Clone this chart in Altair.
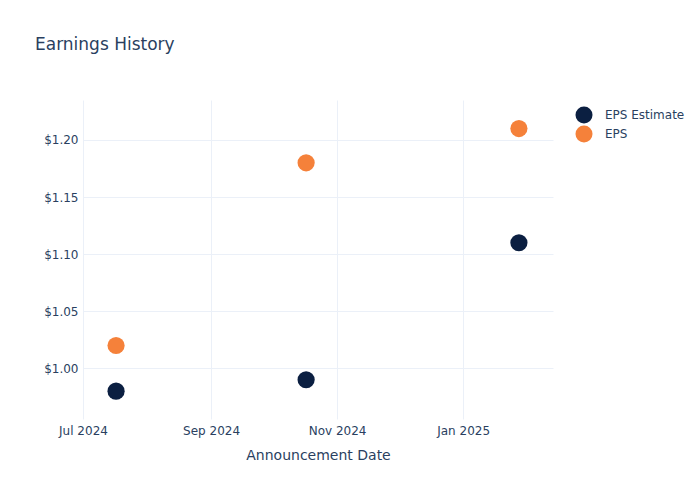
import altair as alt
import pandas as pd

dates = ["2024-07-17", "2024-10-17", "2025-01-28"]
eps_estimate = [0.98, 0.99, 1.11]
eps_actual = [1.02, 1.18, 1.21]
series_names = ["EPS Estimate", "EPS"]
series_colors = ["#0b1f41", "#f5813a"]

rows = []
for d, e in zip(dates, eps_estimate):
    rows.append({"date": d, "value": e, "series": series_names[0]})
for d, a in zip(dates, eps_actual):
    rows.append({"date": d, "value": a, "series": series_names[1]})
df = pd.DataFrame(rows)

FONT = "DejaVu Sans"
TXT = "#2a3f5f"
GRID = "#ebf0f8"

x_ticks = [
    alt.DateTime(year=2024, month=7, date=1, utc=True),
    alt.DateTime(year=2024, month=9, date=1, utc=True),
    alt.DateTime(year=2024, month=11, date=1, utc=True),
    alt.DateTime(year=2025, month=1, date=1, utc=True),
]
x_domain = [
    alt.DateTime(year=2024, month=7, date=1, utc=True),
    alt.DateTime(year=2025, month=2, date=13, hours=12, utc=True),
]

chart = (
    alt.Chart(df)
    .mark_circle(size=295, opacity=1)
    .encode(
        x=alt.X(
            "date:T",
            scale=alt.Scale(type="utc", domain=x_domain),
            axis=alt.Axis(
                values=x_ticks,
                labelExpr="utcFormat(datum.value, '%b %Y')",
                title="Announcement Date",
                titleFontSize=14,
                titleFontWeight="normal",
                titleColor=TXT,
                titleFont=FONT,
                titlePadding=12,
                labelFont=FONT,
                labelFontSize=12,
                labelColor=TXT,
                labelPadding=6,
                domain=False,
                ticks=False,
                gridColor=GRID,
                labelFlush=False,
            ),
        ),
        y=alt.Y(
            "value:Q",
            scale=alt.Scale(domain=[0.9556, 1.235], nice=False, zero=False),
            axis=alt.Axis(
                values=[1.0, 1.05, 1.1, 1.15, 1.2],
                format="$.2f",
                title=None,
                labelFont=FONT,
                labelFontSize=12,
                labelColor=TXT,
                labelPadding=5,
                domain=False,
                ticks=False,
                gridColor=GRID,
            ),
        ),
        color=alt.Color(
            "series:N",
            scale=alt.Scale(domain=series_names, range=series_colors),
            sort=series_names,
            legend=alt.Legend(
                title=None,
                orient="none",
                legendX=492,
                legendY=6,
                symbolType="circle",
                symbolSize=290,
                symbolOpacity=1,
                symbolStrokeWidth=0,
                labelFont=FONT,
                labelFontSize=12,
                labelColor=TXT,
                labelOffset=12,
                rowPadding=1,
            ),
        ),
        order=alt.Order("series:N", sort="descending"),
    )
    .properties(
        width=470,
        height=319,
        background="white",
        title=alt.TitleParams(
            "Earnings History",
            anchor="start",
            frame="group",
            dx=-48,
            offset=33,
            baseline="alphabetic",
            font=FONT,
            fontSize=17,
            fontWeight="normal",
            color=TXT,
        ),
        autosize=alt.AutoSizeParams(type="none"),
        padding={"left": 75, "top": 92, "right": 139, "bottom": 73},
    )
    .configure_view(stroke=None, strokeWidth=0)
)

chart.save("out.html", embed_options={"renderer": "svg", "actions": False})
